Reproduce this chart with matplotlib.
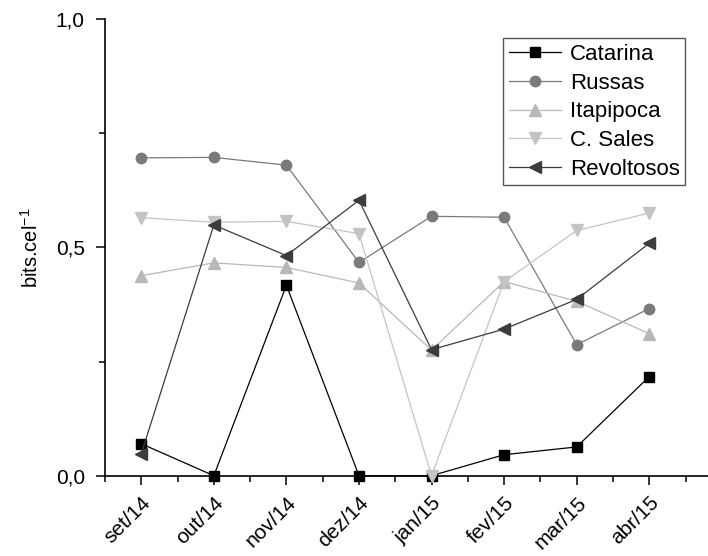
import numpy as np
import matplotlib.pyplot as plt
from matplotlib.ticker import MultipleLocator

plt.rcParams["font.family"] = ["Liberation Sans", "DejaVu Sans"]
plt.rcParams["mathtext.fontset"] = "custom"
plt.rcParams["mathtext.rm"] = "Liberation Sans"

# Meses de coleta
meses = ["set/14", "out/14", "nov/14", "dez/14", "jan/15", "fev/15", "mar/15", "abr/15"]

# Diversidade (bits.cel-1) por estação
catarina = [0.070, 0.0, 0.417, 0.0, 0.0, 0.046, 0.063, 0.217]
russas = [0.696, 0.697, 0.680, 0.467, 0.568, 0.566, 0.287, 0.366]
itapipoca = [0.438, 0.466, 0.456, 0.422, 0.275, 0.425, 0.382, 0.311]
c_sales = [0.565, 0.555, 0.557, 0.530, 0.0, 0.425, 0.537, 0.575]
revoltosos = [0.048, 0.549, 0.482, 0.603, 0.276, 0.321, 0.386, 0.509]

x = np.arange(len(meses))

fig = plt.figure(figsize=(7.08, 5.56), dpi=100)
ax = fig.add_axes([0.1483, 0.1444, 0.8517, 0.8214])

estilo = dict(linewidth=0.9, clip_on=False, zorder=3)
ax.plot(x, catarina, color="black", marker="s", markersize=7, label="Catarina", **estilo)
ax.plot(x, russas, color="#7a7a7a", marker="o", markersize=7.5, label="Russas", **estilo)
ax.plot(x, itapipoca, color="#b8b8b8", marker="^", markersize=8.5, label="Itapipoca", **estilo)
ax.plot(x, c_sales, color="#c4c4c4", marker="v", markersize=8.5, label="C. Sales", **estilo)
ax.plot(x, revoltosos, color="#3c3c3c", marker="<", markersize=8.5, label="Revoltosos", **estilo)

ax.set_xlim(-0.5, 7.81)
ax.set_ylim(0, 1.0)
ax.set_xticks(x)
ax.set_xticklabels(meses, rotation=45, ha="right", rotation_mode="anchor", fontsize=15)
ax.xaxis.set_minor_locator(MultipleLocator(0.5))
ax.set_yticks([0, 0.5, 1.0])
ax.set_yticklabels(["0,0", "0,5", "1,0"], fontsize=15)
ax.yaxis.set_minor_locator(MultipleLocator(0.25))
ax.tick_params(which="major", direction="out", length=6.5, width=1.1)
ax.tick_params(which="minor", direction="out", length=4.5, width=1.1)
ax.tick_params(axis="y", which="major", pad=8)
ax.tick_params(axis="x", which="major", pad=6)

ax.spines["top"].set_visible(False)
ax.spines["right"].set_visible(False)
ax.spines["left"].set_linewidth(1.2)
ax.spines["bottom"].set_linewidth(1.2)

ax.set_ylabel("bits.cel$^{-1}$", fontsize=14.5)
ax.yaxis.set_label_coords(-0.105, 0.5)

leg = ax.legend(loc="upper right", bbox_to_anchor=(0.962, 0.958), fontsize=16,
                fancybox=False, framealpha=1, edgecolor="#555555",
                handlelength=2.35, handletextpad=0.4, labelspacing=0.35,
                borderpad=0.25, borderaxespad=0)
leg.get_frame().set_linewidth(1.0)

fig.savefig("out.png", dpi=100)
